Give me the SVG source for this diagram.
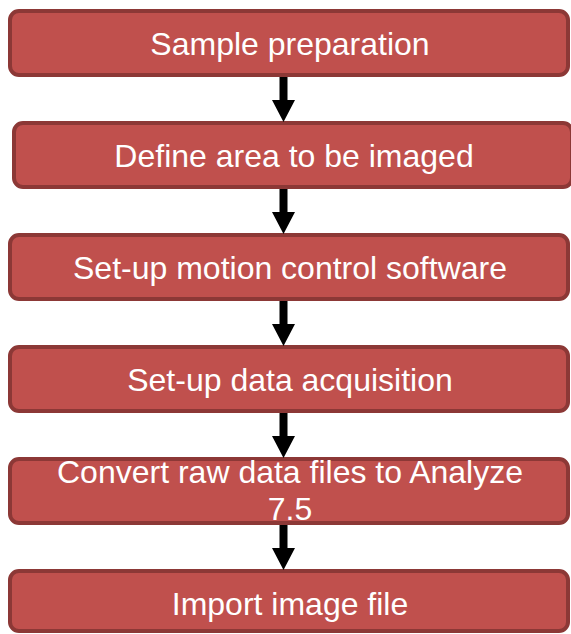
<svg xmlns="http://www.w3.org/2000/svg" width="571" height="634" viewBox="0 0 571 634">
  <style>
    .step { fill: #c0504d; stroke: #8c3836; stroke-width: 4; }
    .label { fill: #ffffff; font-family: "Liberation Sans", Arial, sans-serif; font-size: 32px; text-anchor: middle; }
    .arrow { fill: #000000; }
  </style>
  <rect width="571" height="634" fill="#ffffff"/>

  <g id="step1">
    <rect class="step" x="10" y="11" width="558" height="64" rx="9"/>
    <text class="label" x="290" y="55">Sample preparation</text>
  </g>
  <g id="step2">
    <rect class="step" x="14" y="123" width="558" height="64" rx="9"/>
    <text class="label" x="294" y="167">Define area to be imaged</text>
  </g>
  <g id="step3">
    <rect class="step" x="10" y="235" width="558" height="64" rx="9"/>
    <text class="label" x="290" y="279">Set-up motion control software</text>
  </g>
  <g id="step4">
    <rect class="step" x="10" y="347" width="558" height="64" rx="9"/>
    <text class="label" x="290" y="391">Set-up data acquisition</text>
  </g>
  <g id="step5">
    <rect class="step" x="10" y="459" width="558" height="64" rx="9"/>
    <text class="label" x="290" y="483">Convert raw data files to Analyze</text>
    <text class="label" x="290" y="520">7.5</text>
  </g>
  <g id="step6">
    <rect class="step" x="10" y="571" width="558" height="60" rx="9"/>
    <text class="label" x="290" y="615">Import image file</text>
  </g>

  <g id="connectors">
    <path class="arrow" d="M279.5 77 H287.5 V100 H295 L283.5 122 L272 100 H279.5 Z"/>
    <path class="arrow" d="M279.5 189 H287.5 V212 H295 L283.5 234 L272 212 H279.5 Z"/>
    <path class="arrow" d="M279.5 301 H287.5 V324 H295 L283.5 346 L272 324 H279.5 Z"/>
    <path class="arrow" d="M279.5 413 H287.5 V436 H295 L283.5 458 L272 436 H279.5 Z"/>
    <path class="arrow" d="M279.5 525 H287.5 V548 H295 L283.5 570 L272 548 H279.5 Z"/>
  </g>
</svg>
